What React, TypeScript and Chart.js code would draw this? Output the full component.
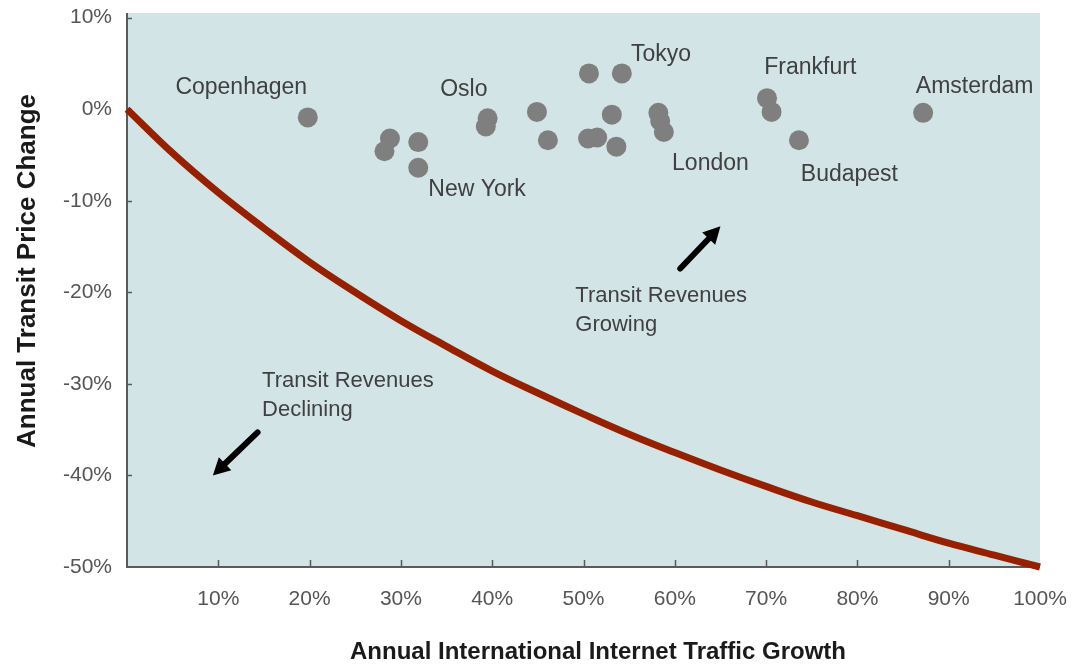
import React, { useEffect, useRef } from "react";
import { Chart, registerables } from "chart.js";

Chart.register(...registerables);

// ---- Data ----
const CITY_X = [19.8, 28.8, 28.2, 31.9, 31.9, 39.5, 39.3, 44.9, 46.1, 50.6, 54.2, 50.5, 51.5, 53.1, 53.6, 58.2, 58.4, 58.8, 70.1, 70.6, 73.6, 87.2];
const CITY_Y = [-0.9, -3.2, -4.6, -3.6, -6.4, -1.0, -1.9, -0.3, -3.4, 3.9, 3.9, -3.2, -3.1, -0.6, -4.1, -0.4, -1.3, -2.5, 1.2, -0.3, -3.4, -0.4];

const CURVE_X = [0, 5, 10, 15, 20, 25, 30, 35, 40, 45, 50, 55, 60, 65, 70, 75, 80, 85, 90, 95, 100];
const CURVE_Y = [0, -4.8, -9.1, -13.0, -16.7, -20.0, -23.1, -25.9, -28.6, -31.0, -33.3, -35.5, -37.5, -39.4, -41.2, -42.9, -44.4, -45.9, -47.4, -48.7, -50];

const X_TICKS = [10, 20, 30, 40, 50, 60, 70, 80, 90, 100];
const Y_TICKS = [10, 0, -10, -20, -30, -40, -50];

const CITY_NAMES = ["Copenhagen", "Oslo", "New York", "Tokyo", "Frankfurt", "London", "Budapest", "Amsterdam"];
const CITY_NAME_X = [5.3, 34.3, 33.0, 55.2, 69.8, 59.7, 73.8, 86.4];
const CITY_NAME_Y = [2.3, 2.1, -8.8, 5.9, 4.5, -5.9, -7.2, 2.5];

const NOTE_LINES = [["Transit Revenues", "Growing"], ["Transit Revenues", "Declining"]];
const NOTE_X = [49.1, 14.8];
const NOTE_Y = [-20.4, -29.7];

const ARROW_FROM_X = [60.6, 14.3];
const ARROW_FROM_Y = [-17.4, -35.3];
const ARROW_TO_X = [65.0, 9.4];
const ARROW_TO_Y = [-12.8, -40.0];

const X_TITLE = "Annual International Internet Traffic Growth";
const Y_TITLE = "Annual Transit Price Change";

const FONT = '"Liberation Sans", Arial, Helvetica, sans-serif';

const decorPlugin = {
  id: "decor",
  beforeDraw(chart: any) {
    const { ctx, chartArea: a } = chart;
    ctx.save();
    ctx.fillStyle = "#d3e4e6";
    ctx.fillRect(a.left, a.top, a.right - a.left, a.bottom - a.top);
    ctx.restore();
  },
  beforeDatasetsDraw(chart: any) {
    const { ctx, chartArea: a, scales } = chart;
    const xs = scales.x;
    const ys = scales.y;
    ctx.save();
    ctx.strokeStyle = "#5a5a5a";
    ctx.lineWidth = 2;
    ctx.beginPath();
    ctx.moveTo(a.left, a.top);
    ctx.lineTo(a.left, a.bottom);
    ctx.lineTo(a.right, a.bottom);
    ctx.stroke();
    ctx.lineWidth = 1.5;
    ctx.beginPath();
    X_TICKS.slice(0, -1).forEach((v) => {
      const px = Math.round(xs.getPixelForValue(v)) + 0.5;
      ctx.moveTo(px, a.bottom);
      ctx.lineTo(px, a.bottom - 7);
    });
    Y_TICKS.slice(0, -1).forEach((v) => {
      const py = Math.round(ys.getPixelForValue(v)) + 0.5;
      ctx.moveTo(a.left, py);
      ctx.lineTo(a.left + 5, py);
    });
    ctx.stroke();
    ctx.restore();
  },
  afterDraw(chart: any) {
    const { ctx, scales } = chart;
    const xs = scales.x;
    const ys = scales.y;
    ctx.save();
    ctx.textBaseline = "middle";
    ctx.textAlign = "left";
    ctx.fillStyle = "#404040";
    ctx.font = `23px ${FONT}`;
    CITY_NAMES.forEach((n, i) => {
      ctx.fillText(n, xs.getPixelForValue(CITY_NAME_X[i]), ys.getPixelForValue(CITY_NAME_Y[i]));
    });
    ctx.font = `22px ${FONT}`;
    NOTE_LINES.forEach((lines, i) => {
      const x0 = xs.getPixelForValue(NOTE_X[i]);
      const y0 = ys.getPixelForValue(NOTE_Y[i]);
      lines.forEach((t, j) => ctx.fillText(t, x0, y0 + j * 29));
    });
    // arrows
    ctx.fillStyle = "#000";
    ctx.strokeStyle = "#000";
    ARROW_FROM_X.forEach((_, i) => {
      const x1 = xs.getPixelForValue(ARROW_FROM_X[i]);
      const y1 = ys.getPixelForValue(ARROW_FROM_Y[i]);
      const x2 = xs.getPixelForValue(ARROW_TO_X[i]);
      const y2 = ys.getPixelForValue(ARROW_TO_Y[i]);
      const ang = Math.atan2(y2 - y1, x2 - x1);
      const headLen = 17;
      const headW = 9;
      const bx = x2 - headLen * Math.cos(ang);
      const by = y2 - headLen * Math.sin(ang);
      ctx.lineWidth = 6;
      ctx.lineCap = "round";
      ctx.beginPath();
      ctx.moveTo(x1, y1);
      ctx.lineTo(bx + 2 * Math.cos(ang), by + 2 * Math.sin(ang));
      ctx.stroke();
      ctx.beginPath();
      ctx.moveTo(x2, y2);
      ctx.lineTo(bx + headW * Math.sin(ang), by - headW * Math.cos(ang));
      ctx.lineTo(bx - headW * Math.sin(ang), by + headW * Math.cos(ang));
      ctx.closePath();
      ctx.fill();
    });
    // axis titles
    ctx.fillStyle = "#1a1a1a";
    ctx.textAlign = "center";
    ctx.font = `bold 24px ${FONT}`;
    ctx.fillText(X_TITLE, 598, 652);
    ctx.translate(28, 271);
    ctx.rotate(-Math.PI / 2);
    ctx.font = `bold 26px ${FONT}`;
    ctx.fillText(Y_TITLE, 0, 0);
    ctx.restore();
  },
};

export default function App() {
  const ref = useRef<HTMLCanvasElement | null>(null);
  useEffect(() => {
    if (!ref.current) return;
    const chart = new Chart(ref.current, {
      type: "scatter",
      data: {
        datasets: [
          {
            type: "line",
            label: "Breakeven",
            data: CURVE_X.map((x, i) => ({ x, y: CURVE_Y[i] })),
            borderColor: "#952100",
            borderWidth: 7,
            pointRadius: 0,
            tension: 0.4,
            fill: false,
            clip: false as any,
            order: 2,
          } as any,
          {
            type: "scatter",
            label: "Cities",
            data: CITY_X.map((x, i) => ({ x, y: CITY_Y[i] })),
            backgroundColor: "#7f7f7f",
            borderWidth: 0,
            pointRadius: 10,
            pointHoverRadius: 10,
            order: 1,
          },
        ],
      },
      options: {
        animation: false,
        responsive: false,
        events: [],
        layout: { padding: { left: 0, right: 32, top: 13, bottom: 0 } },
        plugins: { legend: { display: false }, tooltip: { enabled: false } },
        scales: {
          x: {
            type: "linear",
            min: 0,
            max: 100,
            grid: { display: false, drawTicks: false },
            border: { display: false },
            afterFit: (s: any) => {
              s.height = 98;
              s.paddingLeft = 0;
              s.paddingRight = 0;
            },
            afterBuildTicks: (s: any) => {
              s.ticks = X_TICKS.map((v) => ({ value: v }));
            },
            ticks: {
              padding: 20,
              color: "#555",
              font: { family: FONT, size: 21 },
              callback: (v: any) => `${v}%`,
              maxRotation: 0,
              autoSkip: false,
            },
          },
          y: {
            type: "linear",
            min: -50,
            max: 10.5,
            grid: { display: false, drawTicks: false },
            border: { display: false },
            afterFit: (s: any) => {
              s.width = 127;
              s.paddingTop = 0;
              s.paddingBottom = 0;
            },
            afterBuildTicks: (s: any) => {
              s.ticks = Y_TICKS.map((v) => ({ value: v }));
            },
            ticks: {
              padding: 15,
              color: "#555",
              font: { family: FONT, size: 21 },
              callback: (v: any) => `${v}%`,
              autoSkip: false,
            },
          },
        },
      },
      plugins: [decorPlugin],
    } as any);
    return () => chart.destroy();
  }, []);
  return (
    <div style={{ position: "fixed", left: 0, top: 0, width: 1072, height: 665, background: "#fff" }}>
      <canvas ref={ref} width={1072} height={665} style={{ width: 1072, height: 665, display: "block" }} />
    </div>
  );
}
